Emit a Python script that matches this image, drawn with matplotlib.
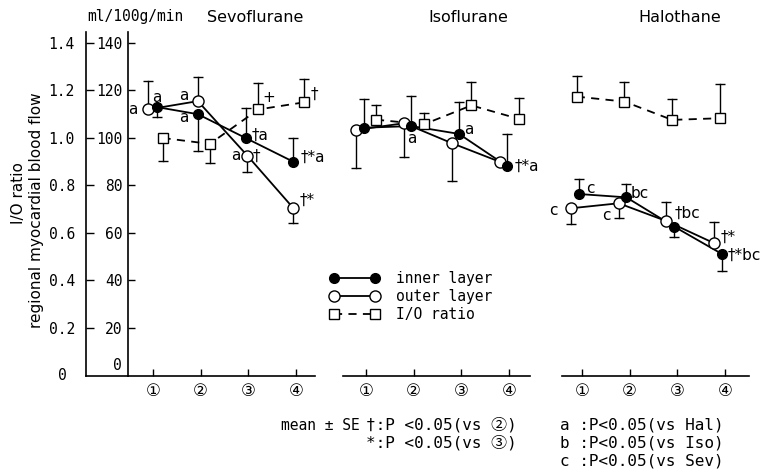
import matplotlib
matplotlib.use("Agg")
import matplotlib.pyplot as plt

W, H = 766, 473

agents = ["Sevoflurane", "Isoflurane", "Halothane"]
stages = [1, 2, 3, 4]
stage_labels = ["①", "②", "③", "④"]

# regional myocardial blood flow (ml/100g/min), mean and SE
inner_sev = [113, 110, 100, 90]
inner_sev_se = [4, 15.5, 12.5, 10]
inner_sev_side = [-1, -1, 1, 1]
outer_sev = [112, 115.5, 92.5, 70.5]
outer_sev_se = [12, 10, 7, 6.3]
outer_sev_side = [1, 1, -1, -1]
ratio_sev = [1.00, 0.975, 1.12, 1.15]
ratio_sev_se = [0.096, 0.08, 0.11, 0.10]
ratio_sev_side = [-1, -1, 1, 1]

inner_iso = [104.3, 105, 101.7, 88.2]
inner_iso_se = [12, 12.8, 13.6, 13.5]
inner_iso_side = [1, 1, 1, 1]
outer_iso = [103.4, 106.2, 97.8, 90]
outer_iso_se = [16, 14.3, 15.8, 0]
outer_iso_side = [-1, -1, -1, -1]
ratio_iso = [1.077, 1.057, 1.137, 1.08]
ratio_iso_se = [0.06, 0.05, 0.097, 0.09]
ratio_iso_side = [1, 1, 1, 1]

inner_hal = [76.4, 75, 62.7, 51.2]
inner_hal_se = [6.2, 5.5, 4.5, 7.1]
inner_hal_side = [1, 1, -1, -1]
outer_hal = [70.4, 72.5, 65, 55.7]
outer_hal_se = [6.6, 6.3, 8.2, 9.1]
outer_hal_side = [-1, -1, 1, 1]
ratio_hal = [1.174, 1.153, 1.076, 1.083]
ratio_hal_se = [0.086, 0.084, 0.088, 0.145]
ratio_hal_side = [1, 1, 1, 1]

# significance marks: (series, stage index, text)
marks_sev = [("outer", 0, "a"), ("inner", 0, "a"), ("outer", 1, "a"), ("inner", 1, "a"),
             ("ratio", 2, "+"), ("ratio", 3, "†"), ("inner", 2, "†a"), ("outer", 2, "a"),
             ("outer", 2, "†"), ("inner", 3, "†*a"), ("outer", 3, "†*")]
marks_iso = [("inner", 1, "a"), ("inner", 2, "a"), ("inner", 3, "†*a")]
marks_hal = [("inner", 0, "c"), ("outer", 0, "c"), ("inner", 1, "bc"), ("outer", 1, "c"),
             ("outer", 2, "†bc"), ("outer", 3, "†*"), ("inner", 3, "†*bc")]

footnotes = ["mean ± SE", "†:P <0.05(vs ②)", "*:P <0.05(vs ③)",
             "a :P<0.05(vs Hal)", "b :P<0.05(vs Iso)", "c :P<0.05(vs Sev)"]

data = {
    "Sevoflurane": dict(inner=(inner_sev, inner_sev_se, inner_sev_side),
                        outer=(outer_sev, outer_sev_se, outer_sev_side),
                        ratio=(ratio_sev, ratio_sev_se, ratio_sev_side), marks=marks_sev),
    "Isoflurane": dict(inner=(inner_iso, inner_iso_se, inner_iso_side),
                       outer=(outer_iso, outer_iso_se, outer_iso_side),
                       ratio=(ratio_iso, ratio_iso_se, ratio_iso_side), marks=marks_iso),
    "Halothane": dict(inner=(inner_hal, inner_hal_se, inner_hal_side),
                      outer=(outer_hal, outer_hal_se, outer_hal_side),
                      ratio=(ratio_hal, ratio_hal_se, ratio_hal_side), marks=marks_hal),
}

# ---- layout (pixels) ----
MONO = ["DejaVu Sans Mono", "Noto Sans CJK JP"]
SANS = ["DejaVu Sans", "Noto Sans CJK JP"]
plt.rcParams["font.family"] = SANS

y_top, y_bot = 32, 375.5
ymax = 144.6
step = 47.7
panel_px = {"Sevoflurane": (128, 25), "Isoflurane": (343, 23), "Halothane": (562, 20)}
panel_w = 187
title_x = {"Sevoflurane": 255, "Isoflurane": 468, "Halothane": 680}

# small horizontal offsets of markers (in stage units), as in the original drawing
dx = {
    "Sevoflurane": dict(outer=[-0.10, -0.06, -0.02, -0.06], inner=[0.08, -0.06, -0.06, -0.06],
                        ratio=[0.2, 0.19, 0.21, 0.17]),
    "Isoflurane": dict(outer=[-0.2] * 4, inner=[-0.05] * 4, ratio=[0.21] * 4),
    "Halothane": dict(outer=[-0.23] * 4, inner=[-0.07] * 4, ratio=[-0.11] * 4),
}

# text offsets of the marks in pixels (dx, dy up), ha
mark_off = {
    "Sevoflurane": [(-15, 0, "center"), (0, 10, "center"), (-14, 6, "center"), (-14, -3, "center"),
                    (4, 12, "left"), (6, 8, "left"), (6, 3, "left"), (-12, 0, "center"),
                    (5, -1, "left"), (7, 4, "left"), (6, 8, "left")],
    "Isoflurane": [(0, -12, "center"), (5, 4, "left"), (8, 0, "left")],
    "Halothane": [(7, 6, "left"), (-18, -2, "center"), (4, 4, "left"), (-12, -12, "center"),
                  (8, 8, "left"), (6, 6, "left"), (6, -1, "left")],
}


def fx(px):
    return px / W


def fy(py):
    return 1 - py / H


fig = plt.figure(figsize=(W / 100, H / 100), dpi=100)
fig.patch.set_facecolor("white")

LW = 1.3


def errbars(ax, x, y, se, side, scale=1.0):
    for xi, yi, s, sd in zip(x, y, se, side):
        if s <= 0:
            continue
        yv = yi * scale
        end = yv + sd * s * scale
        ax.plot([xi, xi], [yv, end], color="k", lw=1.0, zorder=2)
        ax.plot([xi], [end], marker="_", ms=7, mew=1.0, color="k", zorder=2)


axes = {}
for name in agents:
    left, t1 = panel_px[name]
    ax = fig.add_axes([fx(left), fy(y_bot), panel_w / W, (y_bot - y_top) / H])
    x0 = 1 - t1 / step
    ax.set_xlim(x0, x0 + panel_w / step)
    ax.set_ylim(0, ymax)
    ax.patch.set_alpha(0)
    for s in ["top", "right"]:
        ax.spines[s].set_visible(False)
    ax.spines["bottom"].set_linewidth(1.2)
    ax.set_xticks(stages)
    ax.set_xticklabels(stage_labels, fontsize=12, family=SANS)
    ax.tick_params(axis="x", direction="in", length=5, width=1.0, pad=5)
    if name == "Sevoflurane":
        ax.spines["left"].set_linewidth(1.2)
        ax.set_yticks([20, 40, 60, 80, 100, 120, 140])
        ax.set_yticklabels(["20", "40", "60", "80", "100", "120", "140"], family=MONO, fontsize=10.5)
        ax.tick_params(axis="y", direction="in", length=5, width=1.0, pad=4)
    else:
        ax.spines["left"].set_visible(False)
        ax.set_yticks([])

    d = data[name]
    off = dx[name]
    xs = {k: [s + o for s, o in zip(stages, off[k])] for k in ["inner", "outer", "ratio"]}

    ry, rse, rside = d["ratio"]
    ax.plot(xs["ratio"], [v * 100 for v in ry], color="k", lw=LW, ls=(0, (4.5, 3.5)), zorder=3)
    errbars(ax, xs["ratio"], ry, rse, rside, scale=100)
    ax.plot(xs["ratio"], [v * 100 for v in ry], ls="none", marker="s", ms=7, mfc="white",
            mec="k", mew=1.0, zorder=5)

    for key, fill, ms in [("outer", "white", 8), ("inner", "k", 7)]:
        vals, se, side = d[key]
        ax.plot(xs[key], vals, color="k", lw=LW, zorder=3)
        errbars(ax, xs[key], vals, se, side)
        ax.plot(xs[key], vals, ls="none", marker="o", ms=ms, mfc=fill, mec="k", mew=1.0, zorder=6)

    for (series, i, txt), (ox, oy, ha) in zip(d["marks"], mark_off[name]):
        yv = d[series][0][i] * (100 if series == "ratio" else 1)
        ax.annotate(txt, (xs[series][i], yv), xytext=(ox, oy), textcoords="offset pixels",
                    ha=ha, va="center", fontsize=11, family=SANS)

    fig.text(fx(title_x[name]), fy(18), name, ha="center", va="center", fontsize=11.5)
    axes[name] = ax

# I/O ratio axis
rax = fig.add_axes([fx(86), fy(y_bot), (128 - 86) / W, (y_bot - y_top) / H])
rax.set_ylim(0, ymax / 100)
rax.set_xlim(0, 1)
rax.patch.set_alpha(0)
for s in ["top", "right"]:
    rax.spines[s].set_visible(False)
rax.spines["left"].set_linewidth(1.2)
rax.spines["bottom"].set_linewidth(1.2)
rax.set_xticks([])
rax.set_yticks([0.2, 0.4, 0.6, 0.8, 1.0, 1.2, 1.4])
rax.set_yticklabels(["0.2", "0.4", "0.6", "0.8", "1.0", "1.2", "1.4"], family=MONO, fontsize=10.5)
rax.tick_params(axis="y", direction="in", length=6, width=1.0, pad=8)

fig.text(fx(62), fy(375), "0", ha="center", va="center", family=MONO, fontsize=10.5)
fig.text(fx(122), fy(365), "0", ha="right", va="center", family=MONO, fontsize=10.5)
fig.text(fx(87), fy(17), "ml/100g/min", ha="left", va="center", family=MONO, fontsize=10.5)

fig.text(fx(18), fy(193), "I/O ratio", rotation=90, ha="center", va="center", fontsize=11)
fig.text(fx(37), fy(210), "regional myocardial blood flow", rotation=90, ha="center",
         va="center", fontsize=11)

# legend
h_in, = axes["Sevoflurane"].plot([], [], color="k", lw=LW, marker="o", ms=7, mfc="k", mec="k")
h_out, = axes["Sevoflurane"].plot([], [], color="k", lw=LW, marker="o", ms=8, mfc="white", mec="k")
h_rat, = axes["Sevoflurane"].plot([], [], color="k", lw=LW, ls=(0, (4.5, 3.5)), marker="s", ms=7,
                                  mfc="white", mec="k")
fig.legend([h_in, h_out, h_rat], ["inner layer", "outer layer", "I/O ratio"],
           loc="upper left", bbox_to_anchor=(fx(330), fy(271)), frameon=False, numpoints=2,
           handlelength=3.4, handletextpad=1.1, labelspacing=0.2, borderpad=0,
           borderaxespad=0, prop={"family": MONO, "size": 10.5})

# footnotes
FS = 11.5
fig.text(fx(360), fy(425), footnotes[0], ha="right", va="center", family=MONO, fontsize=10.5)
fig.text(fx(366), fy(425), footnotes[1], ha="left", va="center", family=MONO, fontsize=FS)
fig.text(fx(366), fy(443), footnotes[2], ha="left", va="center", family=MONO, fontsize=FS)
for k, txt in enumerate(footnotes[3:]):
    fig.text(fx(560), fy(425 + 18 * k), txt, ha="left", va="center", family=MONO, fontsize=FS)

fig.savefig("out.png", dpi=100, facecolor="white")
